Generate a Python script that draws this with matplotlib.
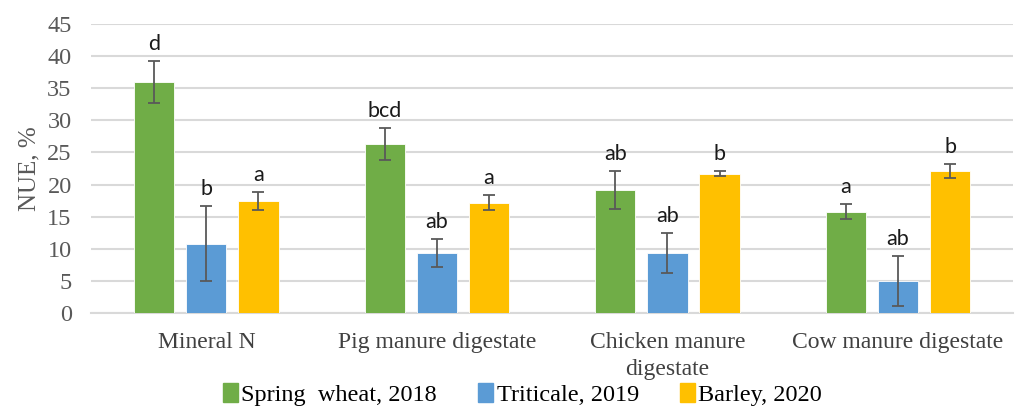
import numpy as np
import matplotlib
matplotlib.use("Agg")
import matplotlib.pyplot as plt
from matplotlib.patches import Patch

categories = ["Mineral N", "Pig manure digestate", "Chicken manure\ndigestate", "Cow manure digestate"]
series = ["Spring  wheat, 2018", "Triticale, 2019", "Barley, 2020"]
colors = ["#70AD47", "#5B9BD5", "#FFC000"]

wheat = [36.0, 26.3, 19.2, 15.8]
triticale = [10.8, 9.35, 9.35, 4.95]
barley = [17.45, 17.2, 21.7, 22.15]
values = [wheat, triticale, barley]

wheat_err = [3.3, 2.45, 2.95, 1.15]
triticale_err = [5.8, 2.2, 3.1, 3.9]
barley_err = [1.4, 1.1, 0.4, 1.1]
errors = [wheat_err, triticale_err, barley_err]

wheat_letters = ["d", "bcd", "ab", "a"]
triticale_letters = ["b", "ab", "ab", "ab"]
barley_letters = ["a", "a", "b", "b"]
letters = [wheat_letters, triticale_letters, barley_letters]

serif = "Liberation Serif"
sans = "Lato"

fig = plt.figure(figsize=(10.35, 4.09), dpi=100)
ax = fig.add_axes([0.088, 0.235, 0.891, 0.706])

x = np.arange(len(categories))
width = 0.174
step = 0.226

for i in range(3):
    pos = x + (i - 1) * step
    ax.bar(pos, values[i], width, color=colors[i], zorder=3, edgecolor="white", linewidth=0.6)
    ax.errorbar(pos, values[i], yerr=errors[i], fmt="none", ecolor="#595959",
                elinewidth=1.3, capsize=4.5, capthick=1.3, zorder=4)
    for p, v, e, t in zip(pos, values[i], errors[i], letters[i]):
        ax.annotate(t, (p, v + e), xytext=(0, 8), textcoords="offset points",
                    ha="center", va="baseline", fontsize=15.5, family=sans, color="#1a1a1a")

ax.set_xlim(-0.5, 3.5)
ax.set_ylim(0, 45)
ax.set_yticks(range(0, 46, 5))
ax.yaxis.grid(True, color="#D9D9D9", linewidth=1.5, zorder=0)
ax.set_axisbelow(True)
for s in ["top", "right", "left"]:
    ax.spines[s].set_visible(False)
ax.spines["bottom"].set_color("#D9D9D9")
ax.spines["bottom"].set_linewidth(1.5)
ax.tick_params(axis="both", length=0)
ax.tick_params(axis="y", pad=14)
ax.tick_params(axis="x", pad=14)
ax.set_xticks(x)
ax.set_xticklabels(categories, fontsize=17, family=serif, color="#404040", linespacing=1.35)
for lab in ax.get_yticklabels():
    lab.set_fontsize(17.5)
    lab.set_family(serif)
    lab.set_color("#595959")
ax.set_ylabel("NUE, %", fontsize=18, family=serif, color="#595959", labelpad=5)

handles = [Patch(color=c) for c in colors]
fig.legend(handles, series, loc="lower center", bbox_to_anchor=(0.505, -0.046), ncol=3,
           frameon=False, handlelength=0.6, handleheight=0.8, handletextpad=0.15,
           columnspacing=1.7, prop={"family": serif, "size": 17.5})

fig.savefig("out.png", dpi=100)
